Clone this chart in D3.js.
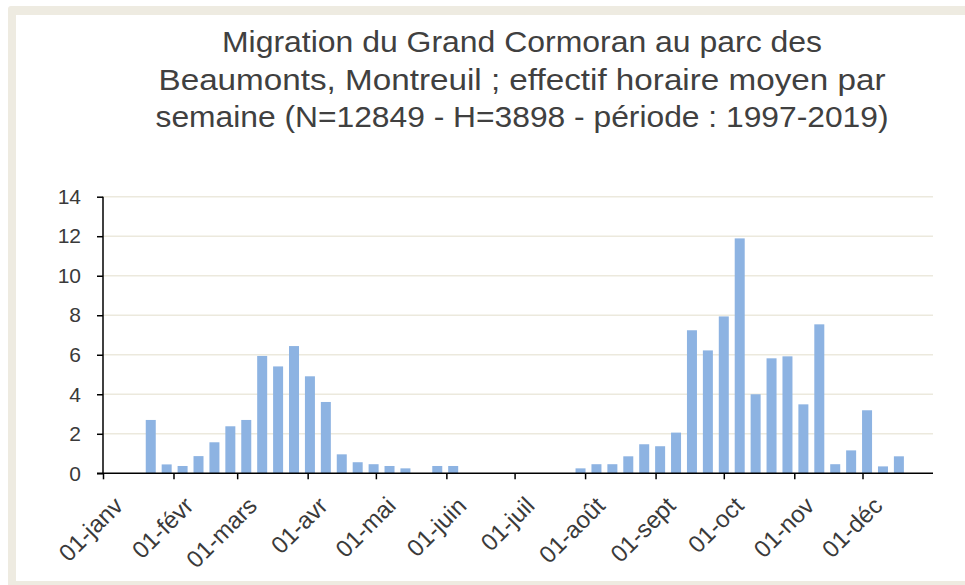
<!DOCTYPE html>
<html>
<head>
<meta charset="utf-8">
<script src="https://cdn.jsdelivr.net/npm/d3@7"></script>
<style>
  body { margin: 0; background: #fff; }
  svg { display: block; }
  .title { font-family: "Liberation Sans", sans-serif; fill: #404040; }
  .axis text { font-family: "Liberation Sans", sans-serif; fill: #3a3a3a; }
</style>
</head>
<body>
<div id="chart"></div>
<script>
// weekly mean hourly counts, one bar per week starting 1 Jan
var weekValues = [0, 0, 0, 2.7, 0.45, 0.37, 0.87, 1.57, 2.38, 2.7,
  5.94, 5.41, 6.44, 4.91, 3.61, 0.96, 0.56, 0.46, 0.37, 0.25,
  0, 0.37, 0.37, 0, 0, 0, 0, 0, 0, 0,
  0.25, 0.46, 0.46, 0.86, 1.47, 1.37, 2.06, 7.24, 6.22, 7.94,
  11.89, 4.0, 5.82, 5.92, 3.49, 7.54, 0.46, 1.16, 3.19, 0.35,
  0.86, 0];
var monthLabels = ['01-janv', '01-févr', '01-mars', '01-avr', '01-mai', '01-juin',
  '01-juil', '01-août', '01-sept', '01-oct', '01-nov', '01-déc'];
var yTicks = [0, 2, 4, 6, 8, 10, 12, 14];
var titleLines = [
  'Migration du Grand Cormoran au parc des',
  'Beaumonts, Montreuil ; effectif horaire moyen par',
  'semaine (N=12849 - H=3898 - période : 1997-2019)'
];
var titleWidths = [600, 727, 733];

var size = { w: 965, h: 585 };
var plot = { left: 103, right: 933, top: 196.7, bottom: 473.3 };

var svg = d3.select('#chart').append('svg')
  .attr('width', size.w)
  .attr('height', size.h);

// frame
svg.append('rect')
  .attr('x', 8).attr('y', 6)
  .attr('width', size.w).attr('height', size.h)
  .attr('rx', 3)
  .attr('fill', '#eeebe1');
svg.append('rect')
  .attr('x', 16).attr('y', 15)
  .attr('width', size.w).attr('height', 566)
  .attr('fill', '#fff');

// title
var title = svg.append('text')
  .attr('class', 'title')
  .attr('text-anchor', 'middle')
  .attr('font-size', 29);
titleLines.forEach(function(line, i) {
  title.append('tspan')
    .attr('x', 522)
    .attr('y', 52 + i*37.5)
    .attr('textLength', titleWidths[i])
    .attr('lengthAdjust', 'spacingAndGlyphs')
    .text(line);
});

// scales
var start = new Date(2019, 0, 1);
var end = new Date(2020, 0, 1);
var x = d3.scaleTime().domain([start, end]).range([plot.left, plot.right]);
var y = d3.scaleLinear().domain([0, 14]).range([plot.bottom, plot.top]);

var weeks = weekValues.map(function(v, i) {
  return { date: d3.timeDay.offset(start, 7*i), value: v };
});
var months = d3.timeMonth.range(start, end);

// grid
svg.append('g')
  .selectAll('line')
  .data(yTicks.filter(function(d) { return d > 0; }))
  .enter().append('line')
  .attr('x1', plot.left).attr('x2', plot.right)
  .attr('y1', function(d) { return y(d); })
  .attr('y2', function(d) { return y(d); })
  .attr('stroke', '#ece9dd')
  .attr('stroke-width', 1.5);

// bars
var barW = 10;
svg.append('g')
  .selectAll('rect')
  .data(weeks.filter(function(d) { return d.value > 0; }))
  .enter().append('rect')
  .attr('x', function(d) { return x(d.date) - barW/2; })
  .attr('y', function(d) { return y(d.value); })
  .attr('width', barW)
  .attr('height', function(d) { return y(0) - y(d.value); })
  .attr('fill', '#8db3e2');

// y axis
var yAxis = d3.axisLeft(y).tickValues(yTicks).tickSize(6).tickPadding(16).tickFormat(d3.format('d'));
svg.append('g')
  .attr('class', 'axis axis-y')
  .attr('transform', 'translate(' + plot.left + ',0)')
  .call(yAxis)
  .call(function(g) {
    g.attr('font-size', 21).attr('font-family', null);
    g.select('.domain').attr('stroke', '#000').attr('stroke-width', 1.5).attr('d', 'M0,' + plot.top + 'V' + plot.bottom);
    g.selectAll('.tick line').attr('stroke', '#000').attr('stroke-width', 1.5);
  });

// x axis
var xAxis = d3.axisBottom(x).tickValues(months).tickSize(6)
  .tickFormat(function(d, i) { return monthLabels[i]; });
svg.append('g')
  .attr('class', 'axis axis-x')
  .attr('transform', 'translate(0,' + plot.bottom + ')')
  .call(xAxis)
  .call(function(g) {
    g.attr('font-size', 24).attr('font-family', null);
    g.select('.domain').attr('stroke', '#000').attr('stroke-width', 1.5)
      .attr('d', 'M' + (plot.left - 6) + ',0H' + plot.right);
    g.selectAll('.tick line').attr('stroke', '#000').attr('stroke-width', 1.5);
    g.selectAll('.tick text')
      .attr('text-anchor', 'end')
      .attr('dy', '0.35em')
      .attr('transform', 'translate(15,28) rotate(-45)')
      .attr('x', 0).attr('y', 0);
  });
</script>
</body>
</html>
